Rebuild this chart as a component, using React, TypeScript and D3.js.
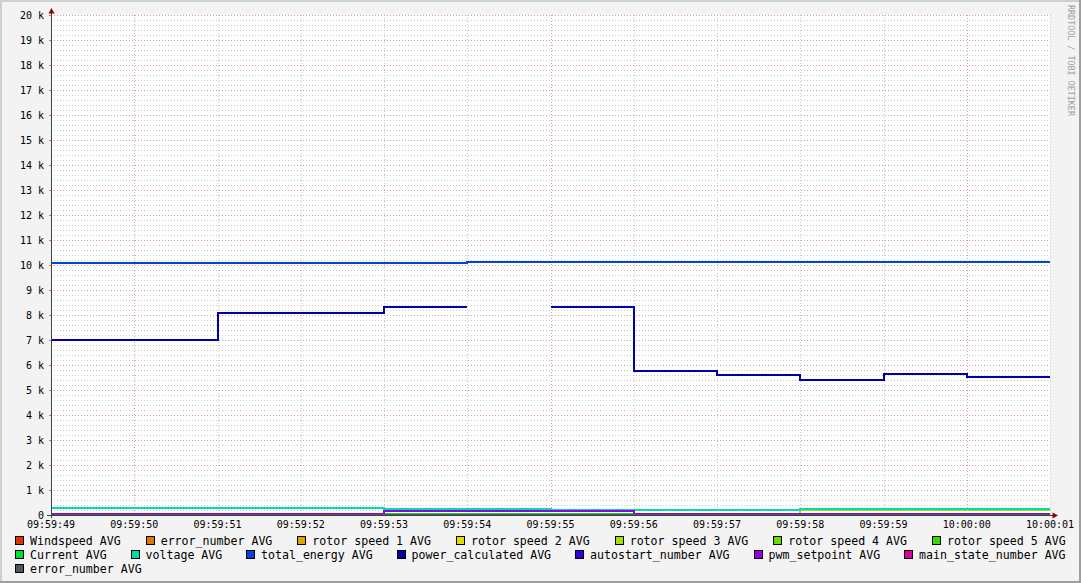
import React from "react";
import * as d3 from "d3";

// ---- data ----
const intervalStarts = [
  "09:59:49", "09:59:50", "09:59:51", "09:59:52", "09:59:53", "09:59:54",
  "09:59:55", "09:59:56", "09:59:57", "09:59:58", "09:59:59", "10:00:00",
];
const endTime = "10:00:01";

const windspeed = [0, 0, 0, 0, 0, 0, 0, 0, 0, 0, 0, 0];
const errorNumber = [0, 0, 0, 0, 0, 0, 0, 0, 0, 0, 0, 0];
const rotorSpeed1 = [0, 0, 0, 0, 0, 0, 0, 0, 0, 0, 0, 0];
const rotorSpeed2 = [0, 0, 0, 0, 0, 0, 0, 0, 0, 0, 0, 0];
const rotorSpeed3 = [0, 0, 0, 0, 0, 0, 0, 0, 0, 190, 190, 190];
const rotorSpeed4 = [0, 0, 0, 0, 0, 0, 0, 0, 0, 0, 0, 0];
const rotorSpeed5 = [0, 0, 0, 0, 0, 0, 0, 0, 0, 0, 0, 0];
const current = [0, 0, 0, 0, 60, 60, 60, 0, 0, 0, 0, 0];
const voltage = [290, 290, 290, 290, 250, 250, 210, 210, 210, 250, 250, 250];
const totalEnergy = [10090, 10090, 10090, 10090, 10090, 10130, 10130, 10130, 10130, 10130, 10130, 10130];
const powerCalculated = [7000, 7000, 8090, 8090, 8330, NaN, 8330, 5770, 5600, 5390, 5640, 5540];
const autostartNumber = [0, 0, 0, 0, 0, 0, 0, 0, 0, 0, 0, 0];
const pwmSetpoint = [50, 50, 50, 50, 150, 150, 150, 50, 50, 50, 50, 50];
const mainStateNumber = [0, 0, 0, 0, 0, 0, 0, 0, 0, 0, 0, 0];
const errorNumber2 = [0, 0, 0, 0, 0, 0, 0, 0, 0, 0, 0, 0];

const seriesNames = [
  "Windspeed AVG", "error_number AVG", "rotor speed 1 AVG", "rotor speed 2 AVG",
  "rotor speed 3 AVG", "rotor speed 4 AVG", "rotor speed 5 AVG", "Current AVG",
  "voltage AVG", "total_energy AVG", "power_calculated AVG", "autostart_number AVG",
  "pwm_setpoint AVG", "main_state_number AVG", "error_number AVG",
];
const seriesColors = [
  "#DD3300", "#DD7700", "#DDA500", "#DDDD00", "#AADD00", "#66DD00", "#33DD00",
  "#00DD33", "#00DDAA", "#0044DD", "#0000AA", "#3300DD", "#9900DD", "#DD0099", "#555555",
];
const seriesValues = [
  windspeed, errorNumber, rotorSpeed1, rotorSpeed2, rotorSpeed3, rotorSpeed4, rotorSpeed5,
  current, voltage, totalEnergy, powerCalculated, autostartNumber, pwmSetpoint, mainStateNumber, errorNumber2,
];

const W = 1081;
const H = 583;
const X0 = 51, X1 = 1050, Y0 = 515, Y1 = 15;
const MONO = "'DejaVu Sans Mono', monospace";

const parseT = (s: string) => d3.timeParse("%Y-%m-%d %H:%M:%S")("2024-01-01 " + s) as Date;

export default function App() {
  const starts = intervalStarts.map(parseT);
  const end = parseT(endTime);
  const bounds = [...starts, end];

  const x = d3.scaleTime().domain([starts[0], end]).range([X0, X1]);
  const y = d3.scaleLinear().domain([0, 20000]).range([Y0, Y1]);

  const xTicks = x.ticks(d3.timeSecond.every(1) as any);
  const fmt = d3.timeFormat("%H:%M:%S");
  const yMajor = y.ticks(20);
  const yMinor = d3.range(0, 20001, 200);

  const line = d3
    .line<[Date, number]>()
    .defined((d) => !isNaN(d[1]))
    .x((d) => x(d[0]))
    .y((d) => y(d[1]));

  const pathFor = (vals: number[]) => {
    const pts: [Date, number][] = [];
    vals.forEach((v, i) => {
      pts.push([bounds[i], v]);
      pts.push([bounds[i + 1], v]);
    });
    return line(pts) || "";
  };

  // legend layout (rrdtool style justification)
  const cw = 7.0;
  const itemW = (s: string) => 15 + s.length * cw;
  const legLeft = 15, legRight = 1066;
  const rows: number[][] = [];
  let cur: number[] = [];
  let sum = 0;
  seriesNames.forEach((n, i) => {
    const w = itemW(n);
    if (cur.length && sum + w + cur.length * 10 > legRight - legLeft) {
      rows.push(cur);
      cur = [];
      sum = 0;
    }
    cur.push(i);
    sum += w;
  });
  if (cur.length) rows.push(cur);
  const legendItems: { i: number; x: number; y: number }[] = [];
  rows.forEach((r, ri) => {
    const tot = d3.sum(r, (i) => itemW(seriesNames[i]));
    const gap = r.length > 1 && ri < rows.length - 1 ? (legRight - legLeft - tot) / (r.length - 1) : 23.5;
    let cx = legLeft;
    r.forEach((i) => {
      legendItems.push({ i, x: cx, y: 541 + ri * 14 });
      cx += itemW(seriesNames[i]) + gap;
    });
  });

  const isMajorX = (d: Date) => d.getSeconds() % 5 === 0;

  return (
    <svg width={W} height={H} style={{ position: "absolute", left: 0, top: 0 }}>
      <defs>
        <clipPath id="plot">
          <rect x={X0} y={Y1 - 1} width={X1 - X0 + 1} height={Y0 - Y1 + 1} />
        </clipPath>
      </defs>
      <rect x={0} y={0} width={W} height={H} fill="#F3F3F3" />
      {/* frame shading */}
      <rect x={0} y={0} width={W} height={2} fill="#CFCFCF" />
      <rect x={0} y={0} width={2} height={H} fill="#CFCFCF" />
      <rect x={0} y={H - 2} width={W} height={2} fill="#9E9E9E" />
      <rect x={W - 2} y={0} width={2} height={H} fill="#9E9E9E" />
      {/* canvas */}
      <rect x={X0} y={Y1} width={X1 - X0} height={Y0 - Y1} fill="#FFFFFF" />

      {/* minor horizontal grid */}
      {yMinor.filter((v) => v % 1000 !== 0).map((v) => (
        <line key={"hm" + v} x1={X0} x2={X1} y1={y(v) + 0.5} y2={y(v) + 0.5}
          stroke="#C8C8C8" strokeDasharray="1,2" shapeRendering="crispEdges" />
      ))}
      {/* minor vertical grid */}
      {xTicks.filter((d) => !isMajorX(d)).map((d) => (
        <line key={"vm" + +d} x1={Math.round(x(d)) + 0.5} x2={Math.round(x(d)) + 0.5} y1={Y1} y2={Y0}
          stroke="#C8C8C8" strokeDasharray="1,2" shapeRendering="crispEdges" />
      ))}
      {/* major horizontal grid */}
      {yMajor.map((v) => (
        <g key={"hM" + v}>
          <line x1={X0} x2={X1} y1={y(v) + 0.5} y2={y(v) + 0.5}
            stroke="#E29A9A" strokeDasharray="1,2" shapeRendering="crispEdges" />
          <line x1={X0 - 2} x2={X0} y1={y(v) + 0.5} y2={y(v) + 0.5} stroke="#D07070" shapeRendering="crispEdges" />
        </g>
      ))}
      {/* major vertical grid */}
      {xTicks.filter(isMajorX).map((d) => (
        <line key={"vM" + +d} x1={Math.round(x(d)) + 0.5} x2={Math.round(x(d)) + 0.5} y1={Y1} y2={Y0}
          stroke="#E29A9A" strokeDasharray="1,2" shapeRendering="crispEdges" />
      ))}

      {/* series */}
      <g clipPath="url(#plot)">
        {seriesValues.map((vals, si) => (
          <path key={"s" + si} d={pathFor(vals)} fill="none" stroke={seriesColors[si]}
            strokeWidth={2} shapeRendering="crispEdges" />
        ))}
      </g>

      {/* axes */}
      <line x1={X0 - 4} x2={1054} y1={Y0 + 0.5} y2={Y0 + 0.5} stroke="#404040" shapeRendering="crispEdges" />
      <line x1={X0 + 0.5} x2={X0 + 0.5} y1={Y0 + 3} y2={12} stroke="#404040" shapeRendering="crispEdges" />
      <path d={`M${X0 + 0.5},8 L${X0 - 2.5},13.5 L${X0 + 3.5},13.5 Z`} fill="#8B0000" />
      <path d={`M1058,${Y0 + 0.5} L1052.5,${Y0 - 2.5} L1052.5,${Y0 + 3.5} Z`} fill="#8B0000" />

      {/* y labels */}
      {yMajor.map((v) => (
        <text key={"yl" + v} x={44} y={y(v) + 3.5} textAnchor="end" fontFamily={MONO} fontSize={10} fill="#000">
          {v === 0 ? "0" : `${v / 1000} k`}
        </text>
      ))}
      {/* x labels */}
      {xTicks.map((d) => (
        <text key={"xl" + +d} x={x(d)} y={527.5} textAnchor="middle" fontFamily={MONO} fontSize={10} fill="#000">
          {fmt(d)}
        </text>
      ))}

      {/* legend */}
      {legendItems.map(({ i, x: lx, y: ly }) => (
        <g key={"lg" + i}>
          <rect x={lx + 0.5} y={ly - 4.5} width={8} height={8} fill={seriesColors[i]} stroke="#000" strokeWidth={1} shapeRendering="crispEdges" />
          <text x={lx + 15} y={ly + 4} fontFamily={MONO} fontSize={11.6} fill="#000">
            {seriesNames[i]}
          </text>
        </g>
      ))}

      {/* watermark */}
      <text transform="translate(1070,5) rotate(90)" fontFamily={MONO} fontSize={8.4} fill="#A0A0A0" dominantBaseline="middle">
        RRDTOOL / TOBI OETIKER
      </text>
    </svg>
  );
}
